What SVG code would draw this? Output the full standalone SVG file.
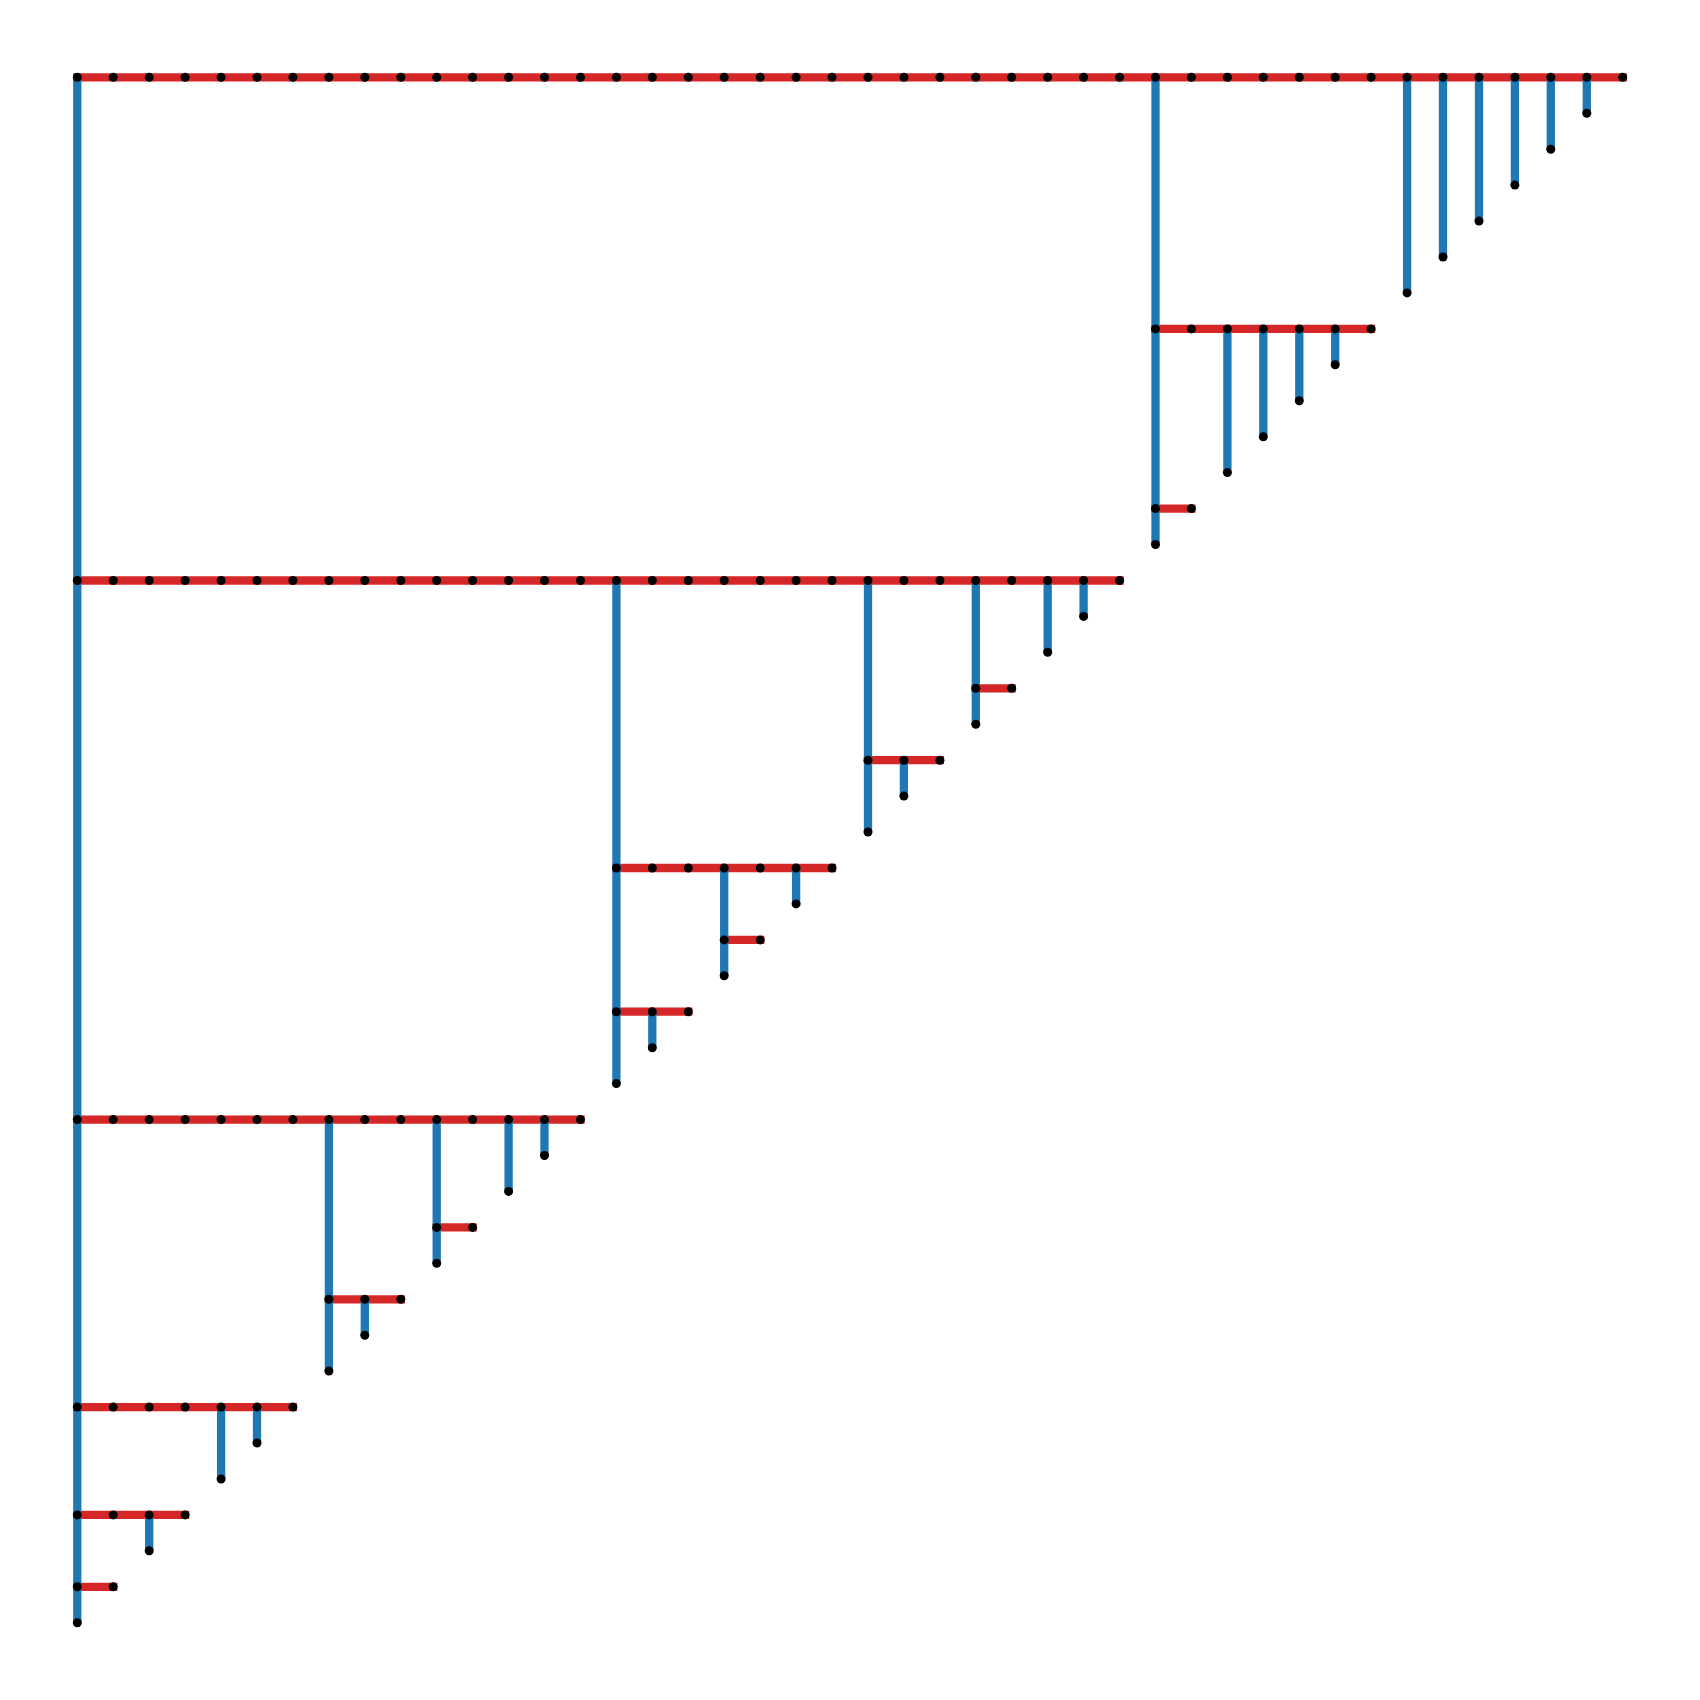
<svg xmlns="http://www.w3.org/2000/svg" xmlns:xlink="http://www.w3.org/1999/xlink" width="1700" height="1700" viewBox="0 0 1700 1700">
<style>
.h{stroke:#d62728;stroke-width:8.3;stroke-linecap:square;fill:none}
.v{stroke:#1f77b4;stroke-width:8.3;stroke-linecap:butt;fill:none}
.nodes use{fill:#000}
</style>
<defs><circle id="d" cx="0" cy="0" r="4.5"/></defs>
<rect width="1700" height="1700" fill="#fff"/>
<g id="connectors">
<g id="horizontal">
<line class="h" x1="77.3" y1="77.3" x2="1622.7" y2="77.3"/>
<line class="h" x1="1155.5" y1="328.9" x2="1371.1" y2="328.9"/>
<line class="h" x1="1155.5" y1="508.6" x2="1191.4" y2="508.6"/>
<line class="h" x1="77.3" y1="580.5" x2="1119.6" y2="580.5"/>
<line class="h" x1="975.8" y1="688.3" x2="1011.7" y2="688.3"/>
<line class="h" x1="868.0" y1="760.2" x2="939.9" y2="760.2"/>
<line class="h" x1="616.4" y1="868.0" x2="832.0" y2="868.0"/>
<line class="h" x1="724.2" y1="939.9" x2="760.2" y2="939.9"/>
<line class="h" x1="616.4" y1="1011.7" x2="688.3" y2="1011.7"/>
<line class="h" x1="77.3" y1="1119.6" x2="580.5" y2="1119.6"/>
<line class="h" x1="436.7" y1="1227.4" x2="472.6" y2="1227.4"/>
<line class="h" x1="328.9" y1="1299.3" x2="400.8" y2="1299.3"/>
<line class="h" x1="77.3" y1="1407.1" x2="292.9" y2="1407.1"/>
<line class="h" x1="77.3" y1="1514.9" x2="185.1" y2="1514.9"/>
<line class="h" x1="77.3" y1="1586.8" x2="113.2" y2="1586.8"/>
</g>
<g id="vertical">
<line class="v" x1="77.3" y1="77.3" x2="77.3" y2="1622.7"/>
<line class="v" x1="1155.5" y1="77.3" x2="1155.5" y2="544.5"/>
<line class="v" x1="1407.1" y1="77.3" x2="1407.1" y2="292.9"/>
<line class="v" x1="1443.0" y1="77.3" x2="1443.0" y2="257.0"/>
<line class="v" x1="1479.0" y1="77.3" x2="1479.0" y2="221.1"/>
<line class="v" x1="1514.9" y1="77.3" x2="1514.9" y2="185.1"/>
<line class="v" x1="1550.8" y1="77.3" x2="1550.8" y2="149.2"/>
<line class="v" x1="1586.8" y1="77.3" x2="1586.8" y2="113.2"/>
<line class="v" x1="1227.4" y1="328.9" x2="1227.4" y2="472.6"/>
<line class="v" x1="1263.3" y1="328.9" x2="1263.3" y2="436.7"/>
<line class="v" x1="1299.3" y1="328.9" x2="1299.3" y2="400.8"/>
<line class="v" x1="1335.2" y1="328.9" x2="1335.2" y2="364.8"/>
<line class="v" x1="616.4" y1="580.5" x2="616.4" y2="1083.6"/>
<line class="v" x1="868.0" y1="580.5" x2="868.0" y2="832.0"/>
<line class="v" x1="975.8" y1="580.5" x2="975.8" y2="724.2"/>
<line class="v" x1="1047.7" y1="580.5" x2="1047.7" y2="652.3"/>
<line class="v" x1="1083.6" y1="580.5" x2="1083.6" y2="616.4"/>
<line class="v" x1="903.9" y1="760.2" x2="903.9" y2="796.1"/>
<line class="v" x1="724.2" y1="868.0" x2="724.2" y2="975.8"/>
<line class="v" x1="796.1" y1="868.0" x2="796.1" y2="903.9"/>
<line class="v" x1="652.3" y1="1011.7" x2="652.3" y2="1047.7"/>
<line class="v" x1="328.9" y1="1119.6" x2="328.9" y2="1371.1"/>
<line class="v" x1="436.7" y1="1119.6" x2="436.7" y2="1263.3"/>
<line class="v" x1="508.6" y1="1119.6" x2="508.6" y2="1191.4"/>
<line class="v" x1="544.5" y1="1119.6" x2="544.5" y2="1155.5"/>
<line class="v" x1="364.8" y1="1299.3" x2="364.8" y2="1335.2"/>
<line class="v" x1="221.1" y1="1407.1" x2="221.1" y2="1479.0"/>
<line class="v" x1="257.0" y1="1407.1" x2="257.0" y2="1443.0"/>
<line class="v" x1="149.2" y1="1514.9" x2="149.2" y2="1550.8"/>
</g>
</g>
<g class="nodes">
<g id="n0_0"><use href="#d" x="77.3" y="77.3"/></g>
<g id="n1_0"><use href="#d" x="113.2" y="77.3"/></g>
<g id="n2_0"><use href="#d" x="149.2" y="77.3"/></g>
<g id="n3_0"><use href="#d" x="185.1" y="77.3"/></g>
<g id="n4_0"><use href="#d" x="221.1" y="77.3"/></g>
<g id="n5_0"><use href="#d" x="257.0" y="77.3"/></g>
<g id="n6_0"><use href="#d" x="292.9" y="77.3"/></g>
<g id="n7_0"><use href="#d" x="328.9" y="77.3"/></g>
<g id="n8_0"><use href="#d" x="364.8" y="77.3"/></g>
<g id="n9_0"><use href="#d" x="400.8" y="77.3"/></g>
<g id="n10_0"><use href="#d" x="436.7" y="77.3"/></g>
<g id="n11_0"><use href="#d" x="472.6" y="77.3"/></g>
<g id="n12_0"><use href="#d" x="508.6" y="77.3"/></g>
<g id="n13_0"><use href="#d" x="544.5" y="77.3"/></g>
<g id="n14_0"><use href="#d" x="580.5" y="77.3"/></g>
<g id="n15_0"><use href="#d" x="616.4" y="77.3"/></g>
<g id="n16_0"><use href="#d" x="652.3" y="77.3"/></g>
<g id="n17_0"><use href="#d" x="688.3" y="77.3"/></g>
<g id="n18_0"><use href="#d" x="724.2" y="77.3"/></g>
<g id="n19_0"><use href="#d" x="760.2" y="77.3"/></g>
<g id="n20_0"><use href="#d" x="796.1" y="77.3"/></g>
<g id="n21_0"><use href="#d" x="832.0" y="77.3"/></g>
<g id="n22_0"><use href="#d" x="868.0" y="77.3"/></g>
<g id="n23_0"><use href="#d" x="903.9" y="77.3"/></g>
<g id="n24_0"><use href="#d" x="939.9" y="77.3"/></g>
<g id="n25_0"><use href="#d" x="975.8" y="77.3"/></g>
<g id="n26_0"><use href="#d" x="1011.7" y="77.3"/></g>
<g id="n27_0"><use href="#d" x="1047.7" y="77.3"/></g>
<g id="n28_0"><use href="#d" x="1083.6" y="77.3"/></g>
<g id="n29_0"><use href="#d" x="1119.6" y="77.3"/></g>
<g id="n30_0"><use href="#d" x="1155.5" y="77.3"/></g>
<g id="n31_0"><use href="#d" x="1191.4" y="77.3"/></g>
<g id="n32_0"><use href="#d" x="1227.4" y="77.3"/></g>
<g id="n33_0"><use href="#d" x="1263.3" y="77.3"/></g>
<g id="n34_0"><use href="#d" x="1299.3" y="77.3"/></g>
<g id="n35_0"><use href="#d" x="1335.2" y="77.3"/></g>
<g id="n36_0"><use href="#d" x="1371.1" y="77.3"/></g>
<g id="n37_0"><use href="#d" x="1407.1" y="77.3"/></g>
<g id="n38_0"><use href="#d" x="1443.0" y="77.3"/></g>
<g id="n39_0"><use href="#d" x="1479.0" y="77.3"/></g>
<g id="n40_0"><use href="#d" x="1514.9" y="77.3"/></g>
<g id="n41_0"><use href="#d" x="1550.8" y="77.3"/></g>
<g id="n42_0"><use href="#d" x="1586.8" y="77.3"/></g>
<g id="n43_0"><use href="#d" x="1622.7" y="77.3"/></g>
<g id="n37_6"><use href="#d" x="1407.1" y="292.9"/></g>
<g id="n38_5"><use href="#d" x="1443.0" y="257.0"/></g>
<g id="n39_4"><use href="#d" x="1479.0" y="221.1"/></g>
<g id="n40_3"><use href="#d" x="1514.9" y="185.1"/></g>
<g id="n41_2"><use href="#d" x="1550.8" y="149.2"/></g>
<g id="n42_1"><use href="#d" x="1586.8" y="113.2"/></g>
<g id="n30_7"><use href="#d" x="1155.5" y="328.9"/></g>
<g id="n31_7"><use href="#d" x="1191.4" y="328.9"/></g>
<g id="n32_7"><use href="#d" x="1227.4" y="328.9"/></g>
<g id="n33_7"><use href="#d" x="1263.3" y="328.9"/></g>
<g id="n34_7"><use href="#d" x="1299.3" y="328.9"/></g>
<g id="n35_7"><use href="#d" x="1335.2" y="328.9"/></g>
<g id="n36_7"><use href="#d" x="1371.1" y="328.9"/></g>
<g id="n32_11"><use href="#d" x="1227.4" y="472.6"/></g>
<g id="n33_10"><use href="#d" x="1263.3" y="436.7"/></g>
<g id="n34_9"><use href="#d" x="1299.3" y="400.8"/></g>
<g id="n35_8"><use href="#d" x="1335.2" y="364.8"/></g>
<g id="n30_12"><use href="#d" x="1155.5" y="508.6"/></g>
<g id="n31_12"><use href="#d" x="1191.4" y="508.6"/></g>
<g id="n30_13"><use href="#d" x="1155.5" y="544.5"/></g>
<g id="n0_14"><use href="#d" x="77.3" y="580.5"/></g>
<g id="n1_14"><use href="#d" x="113.2" y="580.5"/></g>
<g id="n2_14"><use href="#d" x="149.2" y="580.5"/></g>
<g id="n3_14"><use href="#d" x="185.1" y="580.5"/></g>
<g id="n4_14"><use href="#d" x="221.1" y="580.5"/></g>
<g id="n5_14"><use href="#d" x="257.0" y="580.5"/></g>
<g id="n6_14"><use href="#d" x="292.9" y="580.5"/></g>
<g id="n7_14"><use href="#d" x="328.9" y="580.5"/></g>
<g id="n8_14"><use href="#d" x="364.8" y="580.5"/></g>
<g id="n9_14"><use href="#d" x="400.8" y="580.5"/></g>
<g id="n10_14"><use href="#d" x="436.7" y="580.5"/></g>
<g id="n11_14"><use href="#d" x="472.6" y="580.5"/></g>
<g id="n12_14"><use href="#d" x="508.6" y="580.5"/></g>
<g id="n13_14"><use href="#d" x="544.5" y="580.5"/></g>
<g id="n14_14"><use href="#d" x="580.5" y="580.5"/></g>
<g id="n15_14"><use href="#d" x="616.4" y="580.5"/></g>
<g id="n16_14"><use href="#d" x="652.3" y="580.5"/></g>
<g id="n17_14"><use href="#d" x="688.3" y="580.5"/></g>
<g id="n18_14"><use href="#d" x="724.2" y="580.5"/></g>
<g id="n19_14"><use href="#d" x="760.2" y="580.5"/></g>
<g id="n20_14"><use href="#d" x="796.1" y="580.5"/></g>
<g id="n21_14"><use href="#d" x="832.0" y="580.5"/></g>
<g id="n22_14"><use href="#d" x="868.0" y="580.5"/></g>
<g id="n23_14"><use href="#d" x="903.9" y="580.5"/></g>
<g id="n24_14"><use href="#d" x="939.9" y="580.5"/></g>
<g id="n25_14"><use href="#d" x="975.8" y="580.5"/></g>
<g id="n26_14"><use href="#d" x="1011.7" y="580.5"/></g>
<g id="n27_14"><use href="#d" x="1047.7" y="580.5"/></g>
<g id="n28_14"><use href="#d" x="1083.6" y="580.5"/></g>
<g id="n29_14"><use href="#d" x="1119.6" y="580.5"/></g>
<g id="n28_15"><use href="#d" x="1083.6" y="616.4"/></g>
<g id="n27_16"><use href="#d" x="1047.7" y="652.3"/></g>
<g id="n25_17"><use href="#d" x="975.8" y="688.3"/></g>
<g id="n26_17"><use href="#d" x="1011.7" y="688.3"/></g>
<g id="n25_18"><use href="#d" x="975.8" y="724.2"/></g>
<g id="n22_19"><use href="#d" x="868.0" y="760.2"/></g>
<g id="n23_19"><use href="#d" x="903.9" y="760.2"/></g>
<g id="n24_19"><use href="#d" x="939.9" y="760.2"/></g>
<g id="n23_20"><use href="#d" x="903.9" y="796.1"/></g>
<g id="n22_21"><use href="#d" x="868.0" y="832.0"/></g>
<g id="n15_22"><use href="#d" x="616.4" y="868.0"/></g>
<g id="n16_22"><use href="#d" x="652.3" y="868.0"/></g>
<g id="n17_22"><use href="#d" x="688.3" y="868.0"/></g>
<g id="n18_22"><use href="#d" x="724.2" y="868.0"/></g>
<g id="n19_22"><use href="#d" x="760.2" y="868.0"/></g>
<g id="n20_22"><use href="#d" x="796.1" y="868.0"/></g>
<g id="n21_22"><use href="#d" x="832.0" y="868.0"/></g>
<g id="n20_23"><use href="#d" x="796.1" y="903.9"/></g>
<g id="n18_24"><use href="#d" x="724.2" y="939.9"/></g>
<g id="n19_24"><use href="#d" x="760.2" y="939.9"/></g>
<g id="n18_25"><use href="#d" x="724.2" y="975.8"/></g>
<g id="n15_26"><use href="#d" x="616.4" y="1011.7"/></g>
<g id="n16_26"><use href="#d" x="652.3" y="1011.7"/></g>
<g id="n17_26"><use href="#d" x="688.3" y="1011.7"/></g>
<g id="n16_27"><use href="#d" x="652.3" y="1047.7"/></g>
<g id="n15_28"><use href="#d" x="616.4" y="1083.6"/></g>
<g id="n0_29"><use href="#d" x="77.3" y="1119.6"/></g>
<g id="n1_29"><use href="#d" x="113.2" y="1119.6"/></g>
<g id="n2_29"><use href="#d" x="149.2" y="1119.6"/></g>
<g id="n3_29"><use href="#d" x="185.1" y="1119.6"/></g>
<g id="n4_29"><use href="#d" x="221.1" y="1119.6"/></g>
<g id="n5_29"><use href="#d" x="257.0" y="1119.6"/></g>
<g id="n6_29"><use href="#d" x="292.9" y="1119.6"/></g>
<g id="n7_29"><use href="#d" x="328.9" y="1119.6"/></g>
<g id="n8_29"><use href="#d" x="364.8" y="1119.6"/></g>
<g id="n9_29"><use href="#d" x="400.8" y="1119.6"/></g>
<g id="n10_29"><use href="#d" x="436.7" y="1119.6"/></g>
<g id="n11_29"><use href="#d" x="472.6" y="1119.6"/></g>
<g id="n12_29"><use href="#d" x="508.6" y="1119.6"/></g>
<g id="n13_29"><use href="#d" x="544.5" y="1119.6"/></g>
<g id="n14_29"><use href="#d" x="580.5" y="1119.6"/></g>
<g id="n13_30"><use href="#d" x="544.5" y="1155.5"/></g>
<g id="n12_31"><use href="#d" x="508.6" y="1191.4"/></g>
<g id="n10_32"><use href="#d" x="436.7" y="1227.4"/></g>
<g id="n11_32"><use href="#d" x="472.6" y="1227.4"/></g>
<g id="n10_33"><use href="#d" x="436.7" y="1263.3"/></g>
<g id="n7_34"><use href="#d" x="328.9" y="1299.3"/></g>
<g id="n8_34"><use href="#d" x="364.8" y="1299.3"/></g>
<g id="n9_34"><use href="#d" x="400.8" y="1299.3"/></g>
<g id="n8_35"><use href="#d" x="364.8" y="1335.2"/></g>
<g id="n7_36"><use href="#d" x="328.9" y="1371.1"/></g>
<g id="n0_37"><use href="#d" x="77.3" y="1407.1"/></g>
<g id="n1_37"><use href="#d" x="113.2" y="1407.1"/></g>
<g id="n2_37"><use href="#d" x="149.2" y="1407.1"/></g>
<g id="n3_37"><use href="#d" x="185.1" y="1407.1"/></g>
<g id="n4_37"><use href="#d" x="221.1" y="1407.1"/></g>
<g id="n5_37"><use href="#d" x="257.0" y="1407.1"/></g>
<g id="n6_37"><use href="#d" x="292.9" y="1407.1"/></g>
<g id="n5_38"><use href="#d" x="257.0" y="1443.0"/></g>
<g id="n4_39"><use href="#d" x="221.1" y="1479.0"/></g>
<g id="n0_40"><use href="#d" x="77.3" y="1514.9"/></g>
<g id="n1_40"><use href="#d" x="113.2" y="1514.9"/></g>
<g id="n2_40"><use href="#d" x="149.2" y="1514.9"/></g>
<g id="n3_40"><use href="#d" x="185.1" y="1514.9"/></g>
<g id="n2_41"><use href="#d" x="149.2" y="1550.8"/></g>
<g id="n0_42"><use href="#d" x="77.3" y="1586.8"/></g>
<g id="n1_42"><use href="#d" x="113.2" y="1586.8"/></g>
<g id="n0_43"><use href="#d" x="77.3" y="1622.7"/></g>
</g>
</svg>
